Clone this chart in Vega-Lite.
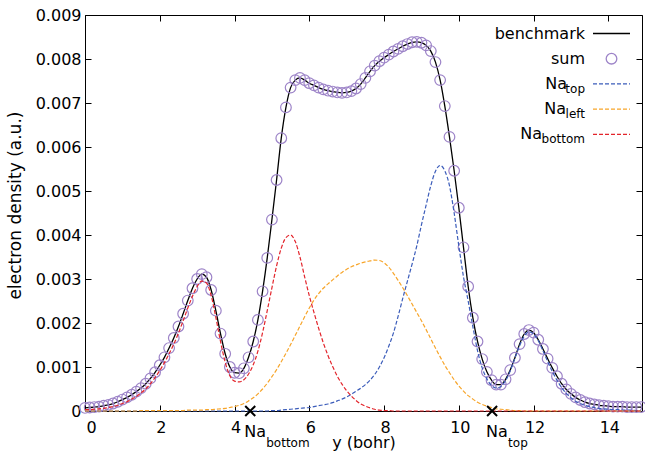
{
  "$schema": "https://vega.github.io/schema/vega-lite/v6.json",
  "width": 557,
  "height": 396,
  "autosize": {"type": "none"},
  "padding": {"left": 85, "top": 15, "right": 3, "bottom": 46},
  "config": {
    "view": {"stroke": "black", "strokeWidth": 1},
    "font": "DejaVu Sans",
    "axis": {
      "labelFont": "DejaVu Sans", "titleFont": "DejaVu Sans",
      "labelFontSize": 16, "titleFontSize": 16, "titleFontWeight": "normal",
      "labelColor": "black", "titleColor": "black", "tickColor": "black",
      "grid": false, "domain": false, "tickSize": -6, "tickWidth": 1
    },
    "legend": {"labelFont": "DejaVu Sans", "labelColor": "black"}
  },
  "datasets": {
    "profile": [
      {"x":0,"total":0.00007,"Na_top":0,"Na_left":0,"Na_bottom":0.00003},
      {"x":0.125,"total":0.00008,"Na_top":0,"Na_left":0,"Na_bottom":0.00003},
      {"x":0.25,"total":0.00009,"Na_top":0,"Na_left":0,"Na_bottom":0.00004},
      {"x":0.375,"total":0.0001,"Na_top":0,"Na_left":0,"Na_bottom":0.00005},
      {"x":0.5,"total":0.00012,"Na_top":0,"Na_left":0,"Na_bottom":0.00006},
      {"x":0.625,"total":0.00014,"Na_top":0,"Na_left":0,"Na_bottom":0.00008},
      {"x":0.75,"total":0.00017,"Na_top":0,"Na_left":0,"Na_bottom":0.0001},
      {"x":0.875,"total":0.00021,"Na_top":0,"Na_left":0,"Na_bottom":0.00013},
      {"x":1,"total":0.00026,"Na_top":0,"Na_left":0,"Na_bottom":0.00017},
      {"x":1.125,"total":0.00031,"Na_top":0,"Na_left":0,"Na_bottom":0.00021},
      {"x":1.25,"total":0.00037,"Na_top":0,"Na_left":0,"Na_bottom":0.00027},
      {"x":1.375,"total":0.00044,"Na_top":0,"Na_left":0,"Na_bottom":0.00033},
      {"x":1.5,"total":0.00052,"Na_top":0,"Na_left":0.00001,"Na_bottom":0.00041},
      {"x":1.625,"total":0.00062,"Na_top":0,"Na_left":0.00001,"Na_bottom":0.0005},
      {"x":1.75,"total":0.00074,"Na_top":0,"Na_left":0.00001,"Na_bottom":0.00062},
      {"x":1.875,"total":0.00088,"Na_top":0,"Na_left":0.00001,"Na_bottom":0.00076},
      {"x":2,"total":0.00104,"Na_top":0,"Na_left":0.00001,"Na_bottom":0.00092},
      {"x":2.125,"total":0.00122,"Na_top":0,"Na_left":0.00001,"Na_bottom":0.0011},
      {"x":2.25,"total":0.00143,"Na_top":0,"Na_left":0.00001,"Na_bottom":0.0013},
      {"x":2.375,"total":0.00166,"Na_top":0,"Na_left":0.00001,"Na_bottom":0.00152},
      {"x":2.5,"total":0.00192,"Na_top":0,"Na_left":0.00001,"Na_bottom":0.00177},
      {"x":2.625,"total":0.00221,"Na_top":0,"Na_left":0.00001,"Na_bottom":0.00205},
      {"x":2.75,"total":0.00251,"Na_top":0,"Na_left":0.00002,"Na_bottom":0.00234},
      {"x":2.875,"total":0.00279,"Na_top":0,"Na_left":0.00002,"Na_bottom":0.00261},
      {"x":3,"total":0.003,"Na_top":0,"Na_left":0.00002,"Na_bottom":0.00283},
      {"x":3.125,"total":0.00311,"Na_top":0,"Na_left":0.00002,"Na_bottom":0.00295},
      {"x":3.25,"total":0.00304,"Na_top":0,"Na_left":0.00003,"Na_bottom":0.00291},
      {"x":3.375,"total":0.00275,"Na_top":0,"Na_left":0.00003,"Na_bottom":0.00262},
      {"x":3.5,"total":0.00228,"Na_top":0,"Na_left":0.00004,"Na_bottom":0.00213},
      {"x":3.625,"total":0.00176,"Na_top":0,"Na_left":0.00005,"Na_bottom":0.00158},
      {"x":3.75,"total":0.0013,"Na_top":0,"Na_left":0.00006,"Na_bottom":0.00111},
      {"x":3.875,"total":0.001,"Na_top":0,"Na_left":0.00008,"Na_bottom":0.0008},
      {"x":4,"total":0.00087,"Na_top":0,"Na_left":0.0001,"Na_bottom":0.00068},
      {"x":4.125,"total":0.00086,"Na_top":0,"Na_left":0.00013,"Na_bottom":0.00066},
      {"x":4.25,"total":0.00097,"Na_top":0,"Na_left":0.00017,"Na_bottom":0.00071},
      {"x":4.375,"total":0.00122,"Na_top":0,"Na_left":0.00023,"Na_bottom":0.00084},
      {"x":4.5,"total":0.00158,"Na_top":0,"Na_left":0.0003,"Na_bottom":0.00105},
      {"x":4.625,"total":0.00207,"Na_top":0,"Na_left":0.00039,"Na_bottom":0.00136},
      {"x":4.75,"total":0.00272,"Na_top":0,"Na_left":0.0005,"Na_bottom":0.00178},
      {"x":4.875,"total":0.00348,"Na_top":0,"Na_left":0.00063,"Na_bottom":0.00228},
      {"x":5,"total":0.00435,"Na_top":0.00001,"Na_left":0.00078,"Na_bottom":0.0028},
      {"x":5.125,"total":0.00525,"Na_top":0.00001,"Na_left":0.00094,"Na_bottom":0.0033},
      {"x":5.25,"total":0.0062,"Na_top":0.00002,"Na_left":0.00112,"Na_bottom":0.0037},
      {"x":5.375,"total":0.0069,"Na_top":0.00003,"Na_left":0.00131,"Na_bottom":0.00394},
      {"x":5.5,"total":0.00735,"Na_top":0.00004,"Na_left":0.00151,"Na_bottom":0.004},
      {"x":5.625,"total":0.00752,"Na_top":0.00005,"Na_left":0.00172,"Na_bottom":0.00385},
      {"x":5.75,"total":0.00757,"Na_top":0.00006,"Na_left":0.00193,"Na_bottom":0.0035},
      {"x":5.875,"total":0.00752,"Na_top":0.00007,"Na_left":0.00214,"Na_bottom":0.00305},
      {"x":6,"total":0.00745,"Na_top":0.00008,"Na_left":0.00234,"Na_bottom":0.00262},
      {"x":6.125,"total":0.0074,"Na_top":0.0001,"Na_left":0.00252,"Na_bottom":0.00224},
      {"x":6.25,"total":0.00735,"Na_top":0.00012,"Na_left":0.00267,"Na_bottom":0.00188},
      {"x":6.375,"total":0.00731,"Na_top":0.00014,"Na_left":0.00279,"Na_bottom":0.00155},
      {"x":6.5,"total":0.00728,"Na_top":0.00016,"Na_left":0.00289,"Na_bottom":0.00126},
      {"x":6.625,"total":0.00726,"Na_top":0.00019,"Na_left":0.00298,"Na_bottom":0.00101},
      {"x":6.75,"total":0.00724,"Na_top":0.00023,"Na_left":0.00307,"Na_bottom":0.00079},
      {"x":6.875,"total":0.00723,"Na_top":0.00027,"Na_left":0.00315,"Na_bottom":0.00061},
      {"x":7,"total":0.00724,"Na_top":0.00032,"Na_left":0.00322,"Na_bottom":0.00046},
      {"x":7.125,"total":0.00727,"Na_top":0.00038,"Na_left":0.00328,"Na_bottom":0.00034},
      {"x":7.25,"total":0.00733,"Na_top":0.00045,"Na_left":0.00332,"Na_bottom":0.00024},
      {"x":7.375,"total":0.00743,"Na_top":0.00052,"Na_left":0.00336,"Na_bottom":0.00016},
      {"x":7.5,"total":0.00757,"Na_top":0.0006,"Na_left":0.00339,"Na_bottom":0.00011},
      {"x":7.625,"total":0.00772,"Na_top":0.0007,"Na_left":0.00341,"Na_bottom":0.00007},
      {"x":7.75,"total":0.00785,"Na_top":0.00083,"Na_left":0.00343,"Na_bottom":0.00004},
      {"x":7.875,"total":0.00795,"Na_top":0.001,"Na_left":0.00342,"Na_bottom":0.00002},
      {"x":8,"total":0.00803,"Na_top":0.00121,"Na_left":0.00337,"Na_bottom":0.00001},
      {"x":8.125,"total":0.0081,"Na_top":0.00147,"Na_left":0.00327,"Na_bottom":0.00001},
      {"x":8.25,"total":0.00817,"Na_top":0.00177,"Na_left":0.00313,"Na_bottom":0},
      {"x":8.375,"total":0.00823,"Na_top":0.00215,"Na_left":0.00297,"Na_bottom":0},
      {"x":8.5,"total":0.00829,"Na_top":0.00256,"Na_left":0.0028,"Na_bottom":0},
      {"x":8.625,"total":0.00834,"Na_top":0.00295,"Na_left":0.00262,"Na_bottom":0},
      {"x":8.75,"total":0.00838,"Na_top":0.00334,"Na_left":0.00243,"Na_bottom":0},
      {"x":8.875,"total":0.00839,"Na_top":0.00375,"Na_left":0.00224,"Na_bottom":0},
      {"x":9,"total":0.00837,"Na_top":0.00423,"Na_left":0.00205,"Na_bottom":0},
      {"x":9.125,"total":0.00831,"Na_top":0.00468,"Na_left":0.00185,"Na_bottom":0},
      {"x":9.25,"total":0.00818,"Na_top":0.00512,"Na_left":0.00164,"Na_bottom":0},
      {"x":9.375,"total":0.00793,"Na_top":0.00545,"Na_left":0.00143,"Na_bottom":0},
      {"x":9.5,"total":0.00752,"Na_top":0.00558,"Na_left":0.00123,"Na_bottom":0},
      {"x":9.625,"total":0.00693,"Na_top":0.00546,"Na_left":0.00104,"Na_bottom":0},
      {"x":9.75,"total":0.00623,"Na_top":0.00512,"Na_left":0.00087,"Na_bottom":0},
      {"x":9.875,"total":0.00546,"Na_top":0.0045,"Na_left":0.00071,"Na_bottom":0},
      {"x":10,"total":0.00462,"Na_top":0.00375,"Na_left":0.00057,"Na_bottom":0},
      {"x":10.125,"total":0.00372,"Na_top":0.00305,"Na_left":0.00045,"Na_bottom":0},
      {"x":10.25,"total":0.00283,"Na_top":0.0025,"Na_left":0.00035,"Na_bottom":0},
      {"x":10.375,"total":0.00212,"Na_top":0.00192,"Na_left":0.00027,"Na_bottom":0},
      {"x":10.5,"total":0.00158,"Na_top":0.00137,"Na_left":0.0002,"Na_bottom":0},
      {"x":10.625,"total":0.00118,"Na_top":0.00098,"Na_left":0.00015,"Na_bottom":0},
      {"x":10.75,"total":0.00089,"Na_top":0.00073,"Na_left":0.00011,"Na_bottom":0},
      {"x":10.875,"total":0.0007,"Na_top":0.00058,"Na_left":0.00008,"Na_bottom":0},
      {"x":11,"total":0.0006,"Na_top":0.00052,"Na_left":0.00005,"Na_bottom":0},
      {"x":11.125,"total":0.0006,"Na_top":0.00056,"Na_left":0.00004,"Na_bottom":0},
      {"x":11.25,"total":0.00072,"Na_top":0.00069,"Na_left":0.00003,"Na_bottom":0},
      {"x":11.375,"total":0.00093,"Na_top":0.00091,"Na_left":0.00002,"Na_bottom":0},
      {"x":11.5,"total":0.00121,"Na_top":0.0012,"Na_left":0.00001,"Na_bottom":0},
      {"x":11.625,"total":0.00152,"Na_top":0.00148,"Na_left":0.00001,"Na_bottom":0},
      {"x":11.75,"total":0.00175,"Na_top":0.0017,"Na_left":0,"Na_bottom":0},
      {"x":11.875,"total":0.00184,"Na_top":0.0018,"Na_left":0,"Na_bottom":0},
      {"x":12,"total":0.00178,"Na_top":0.00175,"Na_left":0,"Na_bottom":0},
      {"x":12.125,"total":0.00162,"Na_top":0.0016,"Na_left":0,"Na_bottom":0},
      {"x":12.25,"total":0.00141,"Na_top":0.00137,"Na_left":0,"Na_bottom":0},
      {"x":12.375,"total":0.00119,"Na_top":0.00113,"Na_left":0,"Na_bottom":0},
      {"x":12.5,"total":0.00098,"Na_top":0.0009,"Na_left":0,"Na_bottom":0},
      {"x":12.625,"total":0.00079,"Na_top":0.0007,"Na_left":0,"Na_bottom":0},
      {"x":12.75,"total":0.00062,"Na_top":0.00053,"Na_left":0,"Na_bottom":0},
      {"x":12.875,"total":0.00049,"Na_top":0.0004,"Na_left":0,"Na_bottom":0},
      {"x":13,"total":0.00039,"Na_top":0.0003,"Na_left":0,"Na_bottom":0},
      {"x":13.125,"total":0.00031,"Na_top":0.00022,"Na_left":0,"Na_bottom":0},
      {"x":13.25,"total":0.00025,"Na_top":0.00017,"Na_left":0,"Na_bottom":0},
      {"x":13.375,"total":0.0002,"Na_top":0.00013,"Na_left":0,"Na_bottom":0},
      {"x":13.5,"total":0.00017,"Na_top":0.0001,"Na_left":0,"Na_bottom":0},
      {"x":13.625,"total":0.00015,"Na_top":0.00008,"Na_left":0,"Na_bottom":0},
      {"x":13.75,"total":0.00013,"Na_top":0.00006,"Na_left":0,"Na_bottom":0},
      {"x":13.875,"total":0.00012,"Na_top":0.00005,"Na_left":0,"Na_bottom":0},
      {"x":14,"total":0.00011,"Na_top":0.00004,"Na_left":0,"Na_bottom":0},
      {"x":14.125,"total":0.0001,"Na_top":0.00003,"Na_left":0,"Na_bottom":0},
      {"x":14.25,"total":0.0001,"Na_top":0.00003,"Na_left":0,"Na_bottom":0},
      {"x":14.375,"total":0.0001,"Na_top":0.00002,"Na_left":0,"Na_bottom":0},
      {"x":14.5,"total":0.00009,"Na_top":0.00002,"Na_left":0,"Na_bottom":0},
      {"x":14.625,"total":0.00009,"Na_top":0.00002,"Na_left":0,"Na_bottom":0},
      {"x":14.75,"total":0.00009,"Na_top":0.00001,"Na_left":0,"Na_bottom":0},
      {"x":14.875,"total":0.00009,"Na_top":0.00001,"Na_left":0,"Na_bottom":0}
    ],
    "atoms": [
      {"x": 4.42, "atom": "Na", "site": "bottom"},
      {"x": 10.89, "atom": "Na", "site": "top"}
    ]
  },
  "resolve": {"axis": {"x": "independent", "y": "independent"}},
  "layer": [
    {
      "data": {"name": "profile"},
      "mark": {"type": "line", "strokeWidth": 1.3, "interpolate": "monotone"},
      "encoding": {
        "x": {"field": "x", "type": "quantitative",
          "scale": {"domain": [0, 14.9], "nice": false, "zero": false},
          "axis": {"orient": "bottom", "values": [0,2,4,6,8,10,12,14], "title": "y (bohr)", "labelPadding": 14, "labelOffset": 1, "titlePadding": -1}},
        "y": {"field": "total", "type": "quantitative",
          "scale": {"domain": [0, 0.009], "nice": false},
          "axis": {"orient": "left", "values": [0,0.001,0.002,0.003,0.004,0.005,0.006,0.007,0.008,0.009], "labelExpr": "datum.value === 0 ? '0' : format(datum.value, '.3f')", "title": "electron density (a.u.)", "titleFontSize": 17, "labelPadding": 10, "titlePadding": 11, "titleY": 190}},
        "color": {"datum": "benchmark", "type": "nominal", "title": null,
          "scale": {"domain": ["benchmark","sum","Na_top","Na_left","Na_bottom"], "range": ["#000000","#9d84c8","#3b5cba","#f7a52a","#e3242b"]},
          "legend": {
            "orient": "none", "legendX": 507, "legendY": 10.5, "title": null, "padding": 0,
            "symbolType": "stroke", "symbolSize": 1369, "symbolStrokeWidth": 1.3,
            "labelFontSize": 16, "labelAlign": "right", "labelBaseline": "middle", "labelOffset": -46,
            "rowPadding": 9.2,
            "labelExpr": "(datum.label === 'Na_top' || datum.label === 'Na_left' || datum.label === 'Na_bottom') ? 'Na' : datum.label",
            "encode": {
              "symbols": {"update": {
                "y": {"value": 8},
                "shape": {"signal": "datum.value === 'sum' ? 'circle' : 'stroke'"},
                "size": {"signal": "datum.value === 'sum' ? 113 : 1369"},
                "strokeDash": {"signal": "datum.value === 'benchmark' || datum.value === 'sum' ? [] : [4,2]"},
                "fill": {"value": "transparent"}
              }},
              "labels": {"update": {
                "y": {"value": 8},
                "dx": {"signal": "datum.value === 'Na_top' ? -18 : datum.value === 'Na_left' ? -19 : datum.value === 'Na_bottom' ? -43 : 0"}
              }}
            }
          }}
      }
    },
    {
      "data": {"name": "profile"},
      "mark": {"type": "point", "shape": "circle", "filled": false, "size": 113, "strokeWidth": 1.2, "opacity": 1},
      "encoding": {
        "x": {"field": "x", "type": "quantitative",
          "axis": {"orient": "top", "values": [0,2,4,6,8,10,12,14], "labels": false, "title": null}},
        "y": {"field": "total", "type": "quantitative",
          "axis": {"orient": "right", "values": [0,0.001,0.002,0.003,0.004,0.005,0.006,0.007,0.008,0.009], "labels": false, "title": null}},
        "color": {"datum": "sum", "type": "nominal", "title": null}
      }
    },
    {
      "data": {"name": "profile"},
      "transform": [{"fold": ["Na_top", "Na_left", "Na_bottom"], "as": ["series", "density"]}],
      "mark": {"type": "line", "strokeWidth": 1.2, "interpolate": "monotone"},
      "encoding": {
        "x": {"field": "x", "type": "quantitative", "axis": null},
        "y": {"field": "density", "type": "quantitative", "axis": null},
        "color": {"field": "series", "type": "nominal", "title": null},
        "strokeDash": {"field": "series", "type": "nominal", "title": null,
          "scale": {"domain": ["Na_top","Na_left","Na_bottom"], "range": [[4,2],[4,2],[4,2]]},
          "legend": {
            "orient": "none", "legendX": 507, "legendY": 67.5, "title": null, "padding": 0,
            "symbolType": "stroke", "symbolSize": 1369, "symbolOpacity": 0,
            "labelFontSize": 12, "labelAlign": "right", "labelBaseline": "middle", "labelOffset": -46,
            "rowPadding": 13.2,
            "labelExpr": "datum.label === 'Na_top' ? 'top' : datum.label === 'Na_left' ? 'left' : 'bottom'",
            "encode": {
              "symbols": {"update": {"y": {"value": 6}}},
              "labels": {"update": {"y": {"value": 6}}}
            }
          }}
      }
    },
    {
      "data": {"name": "atoms"},
      "mark": {"type": "point", "shape": "M-1,-1L1,1M-1,1L1,-1", "filled": false, "size": 100, "strokeWidth": 2, "color": "black", "opacity": 1},
      "encoding": {
        "x": {"field": "x", "type": "quantitative", "axis": null},
        "y": {"datum": 0, "type": "quantitative", "axis": null}
      }
    },
    {
      "data": {"name": "atoms"},
      "mark": {"type": "text", "align": "left", "baseline": "middle", "dx": -6, "dy": 21, "fontSize": 16, "font": "DejaVu Sans", "color": "black"},
      "encoding": {
        "x": {"field": "x", "type": "quantitative", "axis": null},
        "y": {"datum": 0, "type": "quantitative", "axis": null},
        "text": {"field": "atom"}
      }
    },
    {
      "data": {"name": "atoms"},
      "mark": {"type": "text", "align": "left", "baseline": "middle", "dx": 16, "dy": 32, "fontSize": 12, "font": "DejaVu Sans", "color": "black"},
      "encoding": {
        "x": {"field": "x", "type": "quantitative", "axis": null},
        "y": {"datum": 0, "type": "quantitative", "axis": null},
        "text": {"field": "site"}
      }
    }
  ]
}
